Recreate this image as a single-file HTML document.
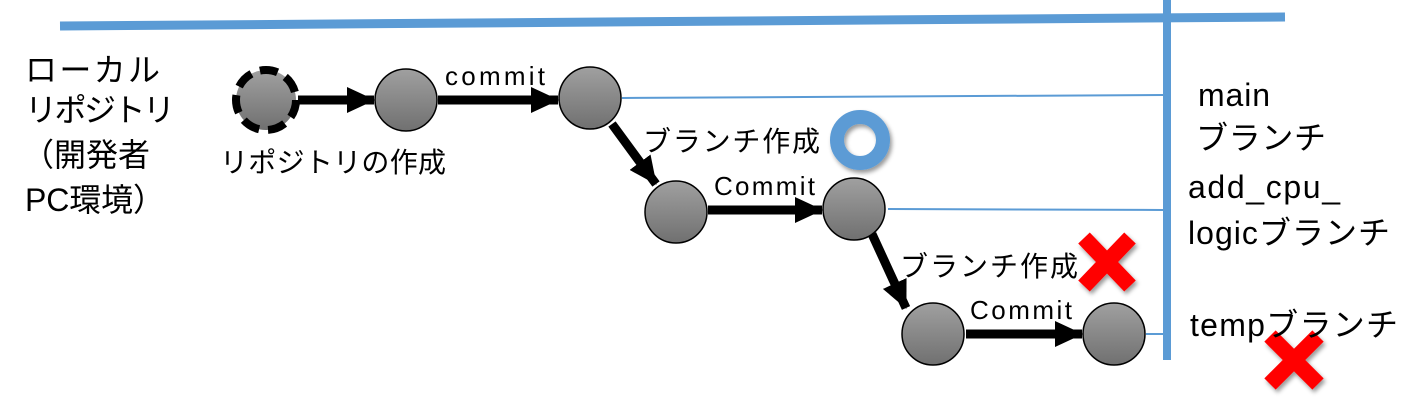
<!DOCTYPE html>
<html><head><meta charset="utf-8"><style>
body{margin:0;background:#fff}
svg text{font-family:"Liberation Sans","Noto Sans CJK JP",sans-serif;fill:#000}
</style></head><body>
<svg width="1426" height="402" viewBox="0 0 1426 402" xmlns="http://www.w3.org/2000/svg">
<defs>
<linearGradient id="g" x1="0" y1="0" x2="0" y2="1"><stop offset="0" stop-color="#a0a0a0"/><stop offset="1" stop-color="#707070"/></linearGradient>
<marker id="ah" markerWidth="28" markerHeight="26" refX="27" refY="13" orient="auto" markerUnits="userSpaceOnUse"><path d="M0,0 L28,13 L0,26 z" fill="#000"/></marker>
<filter id="sh" x="-50%" y="-50%" width="200%" height="200%"><feDropShadow dx="2" dy="3" stdDeviation="2" flood-opacity="0.4"/></filter>
</defs>
<line x1="60" y1="26" x2="1285" y2="17" stroke="#5b9bd5" stroke-width="9"/>
<line x1="1167" y1="0" x2="1167" y2="360" stroke="#5b9bd5" stroke-width="8"/>
<line x1="622" y1="98" x2="1163" y2="95" stroke="#5b9bd5" stroke-width="2"/>
<line x1="888" y1="209" x2="1163" y2="210" stroke="#5b9bd5" stroke-width="2"/>
<line x1="1146" y1="334" x2="1163" y2="334" stroke="#5b9bd5" stroke-width="2"/>
<g stroke="#000" stroke-width="9" marker-end="url(#ah)">
<line x1="298" y1="100" x2="374" y2="100"/>
<line x1="438" y1="100" x2="558" y2="100"/>
<line x1="612" y1="124" x2="656" y2="184"/>
<line x1="708" y1="210" x2="822" y2="210"/>
<line x1="872" y1="234" x2="906" y2="308"/>
<line x1="966" y1="334" x2="1082" y2="334"/>
</g>
<circle cx="266" cy="100" r="30" fill="url(#g)" stroke="#000" stroke-width="8" stroke-dasharray="18 9"/>
<g fill="url(#g)" stroke="#000" stroke-width="1.5">
<circle cx="406" cy="100" r="31"/>
<circle cx="590" cy="98" r="31"/>
<circle cx="676" cy="212" r="31"/>
<circle cx="854" cy="209" r="31"/>
<circle cx="933" cy="334" r="31"/>
<circle cx="1114" cy="334" r="31"/>
</g>
<circle cx="860" cy="140" r="23" fill="none" stroke="#5b9bd5" stroke-width="14" filter="url(#sh)"/>
<g stroke="#f00" stroke-width="16" filter="url(#sh)">
<line x1="1084" y1="238" x2="1130" y2="286"/><line x1="1130" y1="238" x2="1084" y2="286"/>
<line x1="1270" y1="336" x2="1318" y2="384"/><line x1="1318" y1="336" x2="1270" y2="384"/>
</g>
<g font-size="32">
<text x="25" y="81" textLength="135">ローカル</text>
<text x="25" y="121" textLength="150">リポジトリ</text>
<text x="22" y="166">（開発者</text>
<text x="25" y="211" textLength="140">PC環境）</text>
<text x="1198" y="106" textLength="72">main</text>
<text x="1196" y="149" textLength="130">ブランチ</text>
<text x="1188" y="198" textLength="152">add_cpu_</text>
<text x="1188" y="244" textLength="202">logicブランチ</text>
<text x="1190" y="336" textLength="208">tempブランチ</text>
</g>
<g font-size="28">
<text x="220" y="172" textLength="226">リポジトリの作成</text>
<text x="643" y="151" textLength="177">ブランチ作成</text>
<text x="900" y="276" textLength="178">ブランチ作成</text>
</g>
<g font-size="26">
<text x="445" y="85" textLength="100">commit</text>
<text x="714" y="195" textLength="101">Commit</text>
<text x="970" y="319" textLength="102">Commit</text>
</g>
</svg>
</body></html>
